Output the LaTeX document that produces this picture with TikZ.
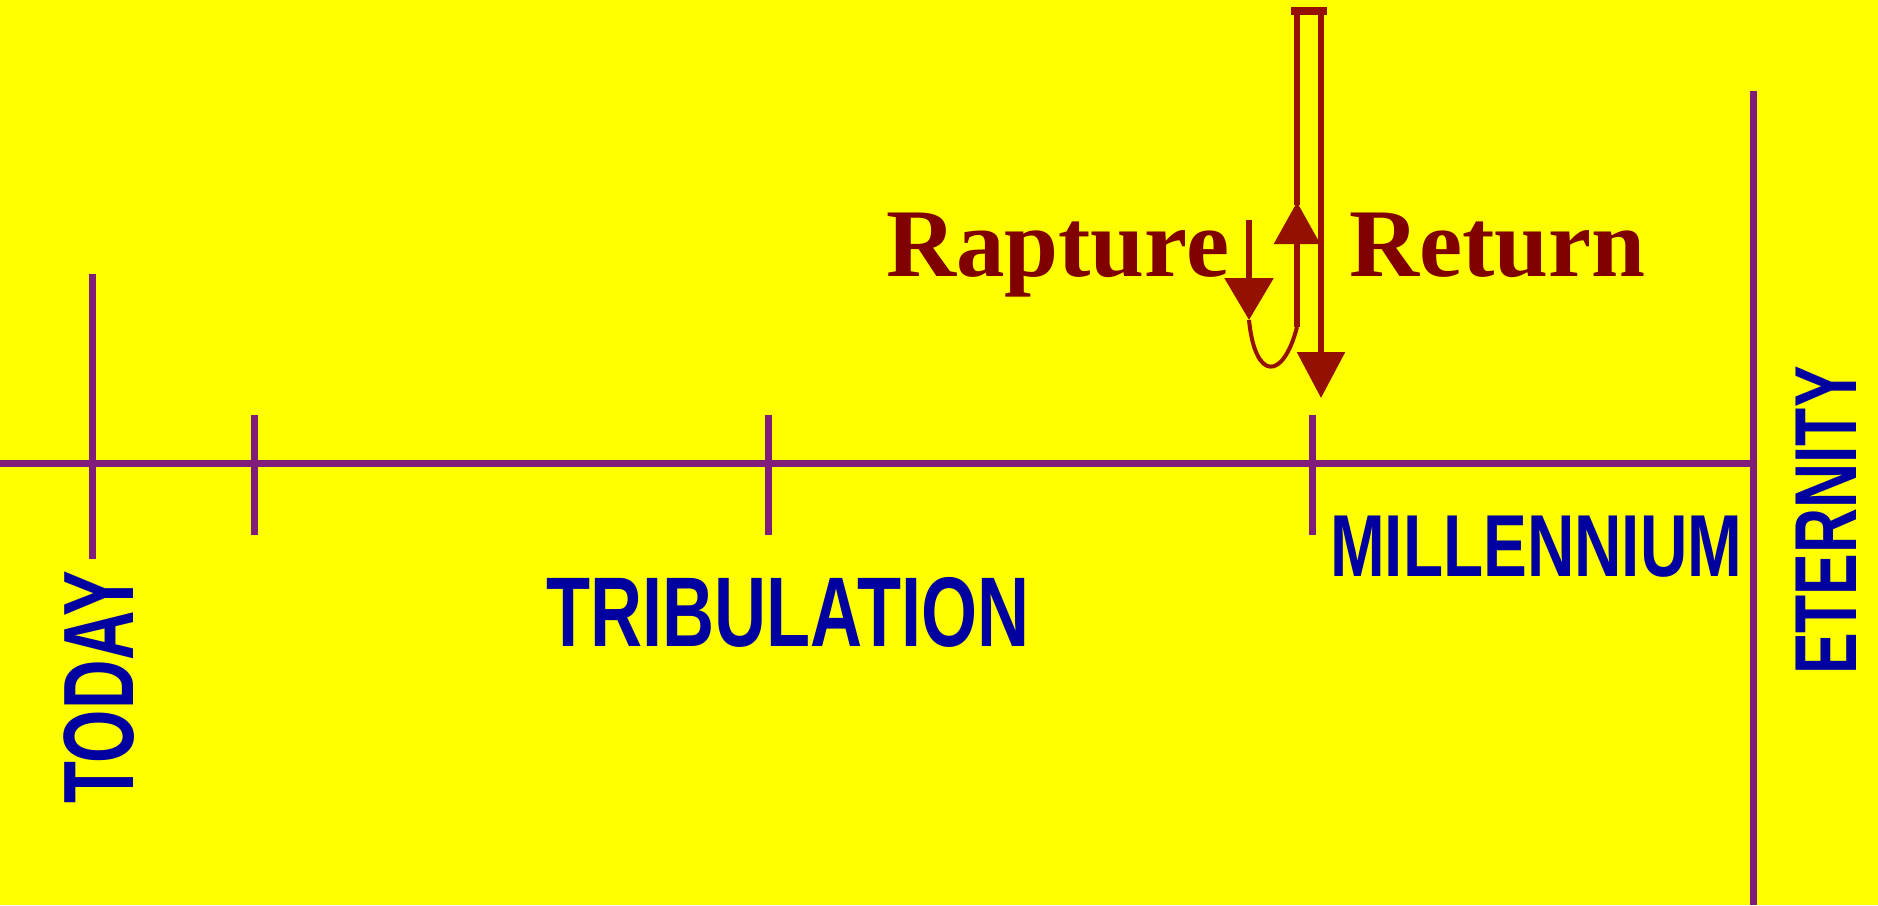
\documentclass[tikz,border=0pt]{standalone}
\usepackage{graphicx}
\usepackage{fontspec}
\setmainfont{Liberation Serif}
\newfontfamily\erafont{Liberation Sans}
\usetikzlibrary{arrows.meta}
\definecolor{bgyellow}{RGB}{255,255,0}
\definecolor{linepurple}{RGB}{128,28,122}
\definecolor{erablue}{RGB}{0,0,160}
\definecolor{eventred}{RGB}{128,0,0}
\definecolor{arrowred}{RGB}{148,16,0}
\tikzset{
  timeline/.style={draw=linepurple,line width=7pt},
  era/.style={text=erablue,inner sep=0pt,anchor=base west,font=\erafont\bfseries},
  event/.style={text=eventred,inner sep=0pt,anchor=base west,font=\bfseries\fontsize{97}{97}\selectfont},
  journey/.style={draw=arrowred,line width=6pt},
  arrowhead/.style={-{Triangle[width=#1,length=42pt]}}
}
\begin{document}
\begin{tikzpicture}[x=1pt,y=-1pt]
        \fill[bgyellow] (0,0) rectangle (1878,905);
        \useasboundingbox (0,0) rectangle (1878,905);
        % time line
        \draw[timeline] (0,463) -- (1753,463);
        \draw[timeline] (92,274) -- (92,559);
        \draw[timeline] (254,415) -- (254,535);
        \draw[timeline] (768,415) -- (768,535);
        \draw[timeline] (1312,415) -- (1312,535);
        \draw[timeline] (1753,91) -- (1753,905);
        % eras
        \node[era,rotate=90] (today) at (133,804) {\fontsize{100}{100}\selectfont\scalebox{0.686}[1]{TODAY}};
        \node[era] (tribulation) at (546.5,646) {\fontsize{99}{99}\selectfont\scalebox{0.728}[1]{TRIBULATION}};
        \node[era] (millennium) at (1330,576) {\fontsize{88}{88}\selectfont\scalebox{0.746}[1]{MILLENNIUM}};
        \node[era,rotate=90] (eternity) at (1856,675) {\fontsize{88}{88}\selectfont\scalebox{0.709}[1]{ETERNITY}};
        % events
        \node[event] (rapture) at (886,276) {Rapture};
        \node[event] (return) at (1349,276) {Return};
        \coordinate (rapture start) at (1249,220);
        \coordinate (rapture end) at (1249,320);
        \coordinate (low point) at (1297,327);
        \coordinate (rise) at (1297,202);
        \coordinate (top left) at (1297,11);
        \coordinate (top right) at (1321,11);
        \coordinate (return end) at (1321,398);
        \draw[journey,arrowhead=48pt] (rapture start) -- (rapture end);
        \draw[journey,line width=4pt] (rapture end) .. controls (1255,381) and (1283,381) .. (low point);
        \draw[journey,arrowhead=45pt] (low point) -- (rise);
        \draw[journey] (1297,205) -- (top left);
        \draw[journey,line width=8pt] (1291,11) -- (1327,11);
        \draw[journey,-{Triangle[width=47pt,length=46pt]}] (top right) -- (return end);
\end{tikzpicture}
\end{document}
